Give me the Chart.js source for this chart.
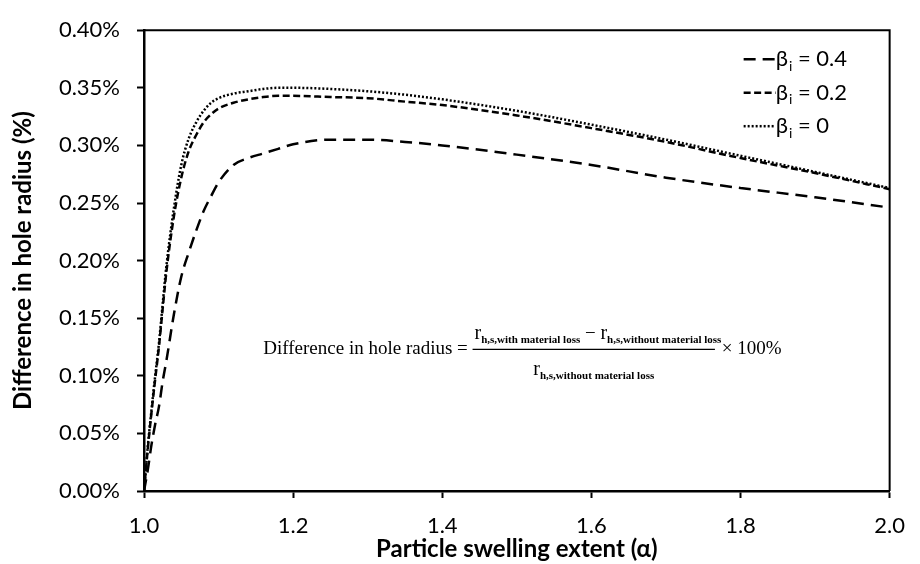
<!DOCTYPE html>
<html>
<head>
<meta charset="utf-8">
<script src="https://cdn.jsdelivr.net/npm/chart.js@4.4.0/dist/chart.umd.min.js"></script>
<style>
  html, body { margin: 0; padding: 0; background: #fff; }
</style>
</head>
<body>
<canvas id="myChart" width="920" height="564"></canvas>
<script>
// particle swelling extent (alpha)
const alpha = [1.0, 1.005, 1.01, 1.015, 1.02, 1.025, 1.03, 1.04, 1.05, 1.06, 1.07, 1.08, 1.09, 1.10,
               1.12, 1.14, 1.16, 1.18, 1.20, 1.25, 1.30, 1.35, 1.40, 1.50, 1.60, 1.70, 1.80, 1.90, 2.00]

// difference in hole radius (%) for each beta_i
const beta04 = [0, 0.018, 0.040, 0.058, 0.073, 0.095, 0.113, 0.153, 0.186, 0.207, 0.226, 0.243, 0.256, 0.268,
                0.283, 0.289, 0.293, 0.297, 0.301, 0.305, 0.305, 0.303, 0.300, 0.292, 0.283, 0.272, 0.263, 0.255, 0.246]
const beta02 = [0, 0.036, 0.068, 0.097, 0.125, 0.158, 0.190, 0.238, 0.272, 0.295, 0.309, 0.320, 0.327, 0.332,
                0.337, 0.340, 0.342, 0.343, 0.343, 0.342, 0.341, 0.338, 0.335, 0.326, 0.315, 0.303, 0.289, 0.276, 0.262]
const beta0  = [0, 0.038, 0.070, 0.100, 0.128, 0.162, 0.195, 0.245, 0.283, 0.306, 0.320, 0.330, 0.337, 0.341,
                0.345, 0.347, 0.349, 0.350, 0.350, 0.349, 0.347, 0.344, 0.340, 0.330, 0.318, 0.305, 0.291, 0.277, 0.263]

const seriesNames = ['0.4', '0.2', '0']
const xTicks = [1.0, 1.2, 1.4, 1.6, 1.8, 2.0]
const yTicks = [0, 0.05, 0.10, 0.15, 0.20, 0.25, 0.30, 0.35, 0.40]

const dashes = [[12, 7], [7, 3.5], [2, 2]]

function points(values){
    return alpha.map((a, i) => ({x: a, y: values[i]}))
}

// frame, legend and the formula text
const decorations = {
    id: 'decorations',
    afterDatasetsDraw(chart){
        const {ctx, chartArea: a, scales} = chart
        ctx.save()

        // top and right border of the plot
        ctx.strokeStyle = '#000'
        ctx.lineWidth = 2
        ctx.beginPath()
        ctx.moveTo(a.left, a.top)
        ctx.lineTo(a.right, a.top)
        ctx.lineTo(a.right, a.bottom)
        ctx.stroke()

        // legend
        const lx = a.right - 146
        chart.data.datasets.forEach((ds, i) => {
            const y = a.top + 29 + i * 33.5
            ctx.setLineDash(ds.borderDash)
            ctx.lineWidth = 2.5
            ctx.beginPath()
            ctx.moveTo(lx, y)
            ctx.lineTo(lx + 32, y)
            ctx.stroke()
            ctx.setLineDash([])
            ctx.fillStyle = '#000'
            ctx.textBaseline = 'middle'
            ctx.textAlign = 'left'
            ctx.font = '22px Lato'
            let x = lx + 32
            ctx.fillText('\u03b2', x, y)
            x += ctx.measureText('\u03b2').width + 1
            ctx.font = '14px Lato'
            ctx.fillText('i', x, y + 7)
            x += ctx.measureText('i').width
            ctx.font = '22px Lato'
            ctx.fillText(' = ' + seriesNames[i], x, y)
        })

        // formula
        const fx = scales.x.getPixelForValue(1.16)
        const bar = scales.y.getPixelForValue(0.123)
        const mainFont = '19px "Liberation Serif"'
        const rFont = '20px "Liberation Serif"'
        const subFont = 'bold 11px "Liberation Serif"'
        ctx.textBaseline = 'alphabetic'
        ctx.textAlign = 'left'

        ctx.font = mainFont
        const lead = 'Difference in hole radius = '
        ctx.fillText(lead, fx, bar + 5)
        let x = fx + ctx.measureText(lead).width

        function rTerm(sub, x0, base){
            ctx.font = rFont
            ctx.fillText('r', x0, base)
            let w = ctx.measureText('r').width
            ctx.font = subFont
            ctx.fillText(sub, x0 + w, base + 4)
            return w + ctx.measureText(sub).width
        }
        function rWidth(sub){
            ctx.font = rFont
            let w = ctx.measureText('r').width
            ctx.font = subFont
            return w + ctx.measureText(sub).width
        }

        const subA = 'h,s,with material loss'
        const subB = 'h,s,without material loss'
        ctx.font = mainFont
        const minus = ' \u2212 '
        const numW = rWidth(subA) + ctx.measureText(minus).width + rWidth(subB)
        const numBase = bar - 10
        let nx = x + 2
        nx += rTerm(subA, nx, numBase)
        ctx.font = mainFont
        ctx.fillText(minus, nx, numBase)
        nx += ctx.measureText(minus).width
        rTerm(subB, nx, numBase)

        ctx.lineWidth = 1.2
        ctx.beginPath()
        ctx.moveTo(x, bar)
        ctx.lineTo(x + numW + 4, bar)
        ctx.stroke()

        const denW = rWidth(subB)
        rTerm(subB, x + 2 + (numW - denW) / 2, bar + 26)

        ctx.font = mainFont
        ctx.fillText(' \u00d7 100%', x + numW + 6, bar + 5)

        ctx.restore()
    }
}

new Chart('myChart', {
    type: 'line',
    data: {
        datasets: [beta04, beta02, beta0].map((vals, i) => ({
            label: '\u03b2i = ' + seriesNames[i],
            data: points(vals),
            borderColor: '#000',
            borderWidth: 2.5,
            borderDash: dashes[i],
            pointRadius: 0,
            fill: false,
            cubicInterpolationMode: 'monotone'
        }))
    },
    options: {
        responsive: false,
        animation: false,
        devicePixelRatio: 1,
        layout: {padding: {top: 24, right: 16, left: 0, bottom: 0}},
        plugins: {legend: {display: false}, tooltip: {enabled: false}},
        scales: {
            x: {
                type: 'linear',
                min: 1, max: 2,
                afterBuildTicks: s => { s.ticks = xTicks.map(v => ({value: v})) },
                afterFit: s => { s.height = 73 },
                ticks: {
                    callback: v => v.toFixed(1),
                    color: '#000',
                    font: {family: 'Lato', size: 22},
                    padding: 15,
                    maxRotation: 0
                },
                grid: {display: true, drawOnChartArea: false, drawTicks: true, tickLength: 7, tickColor: '#000', tickWidth: 2},
                border: {display: true, color: '#000', width: 2.5},
                title: {
                    display: true,
                    text: 'Particle swelling extent (\u03b1)',
                    color: '#000',
                    font: {family: 'Lato', size: 24, weight: 'bold'},
                    padding: {top: 0, bottom: 0}
                }
            },
            y: {
                min: 0, max: 0.4,
                afterBuildTicks: s => { s.ticks = yTicks.map(v => ({value: v})) },
                afterFit: s => { s.width = 144 },
                ticks: {
                    callback: v => v.toFixed(2) + '%',
                    color: '#000',
                    font: {family: 'Lato', size: 22},
                    padding: 17
                },
                grid: {display: true, drawOnChartArea: false, drawTicks: true, tickLength: 7, tickColor: '#000', tickWidth: 2},
                border: {display: true, color: '#000', width: 2.5},
                title: {
                    display: true,
                    text: 'Difference in hole radius (%)',
                    color: '#000',
                    font: {family: 'Lato', size: 24, weight: 'bold'},
                    padding: {top: 9, bottom: 0}
                }
            }
        }
    },
    plugins: [decorations]
})
</script>
</body>
</html>
